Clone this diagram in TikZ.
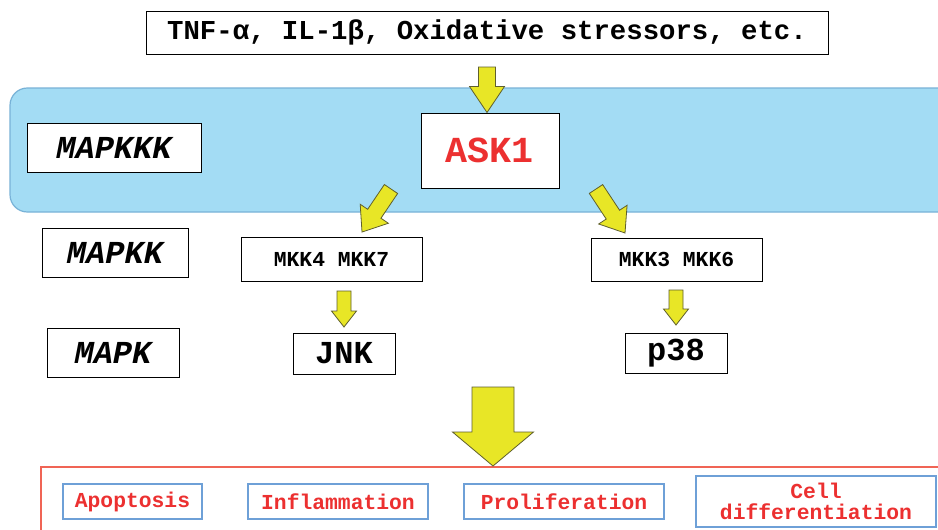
\documentclass[tikz,border=0pt]{standalone}
\usepackage{fontspec}
\setmonofont{Liberation Mono}
\usetikzlibrary{calc}
\definecolor{band}{RGB}{163,220,244}
\definecolor{bandedge}{RGB}{120,178,215}
\definecolor{yel}{RGB}{232,230,38}
\definecolor{yeledge}{RGB}{95,95,45}
\definecolor{askred}{RGB}{236,48,48}
\definecolor{outred}{RGB}{240,100,85}
\definecolor{outblue}{RGB}{110,160,215}
\newcommand{\yarr}[5]{% tail, tip, shaft half width, head half width, head length (px)
  \pgfmathsetmacro\yaS{#3*0.75}%
  \pgfmathsetmacro\yaW{#4*0.75}%
  \pgfmathsetmacro\yaL{#5*0.75}%
  \coordinate (yaH) at ($(#2)!\yaL pt!(#1)$);
  \filldraw[fill=yel, draw=yeledge, line width=0.6pt, line join=miter]
    ($(#1)!\yaS pt!90:(#2)$) -- ($(yaH)!\yaS pt!90:(#2)$) -- ($(yaH)!\yaW pt!90:(#2)$)
    -- (#2) -- ($(yaH)!\yaW pt!-90:(#2)$) -- ($(yaH)!\yaS pt!-90:(#2)$)
    -- ($(#1)!\yaS pt!-90:(#2)$) -- cycle;
}
\begin{document}
\begin{tikzpicture}[x=0.75pt,y=-0.75pt,
  box/.style={draw=black, line width=0.75pt, fill=white, inner sep=0pt, font=\ttfamily\bfseries},
  outbox/.style={draw=outblue, line width=0.9pt, fill=white, inner sep=0pt, text=askred,
     font=\ttfamily\bfseries\fontsize{16}{17}\selectfont, minimum height=26.25pt, align=center}]
\useasboundingbox (0,0) rectangle (938,529);
\fill[white] (0,0) rectangle (938,529);
% blue band
\filldraw[fill=band, draw=bandedge, line width=0.9pt, rounded corners=13pt] (10,88) rectangle (960,212);
% outcome frame
\draw[outred, line width=0.9pt] (41,467) rectangle (960,545);

% nodes
\node[box, minimum width=511.5pt, minimum height=32.25pt, font=\ttfamily\bfseries\fontsize{20.5}{22}\selectfont]
  (stim) at (487,32.5) {TNF-α, IL-1β, Oxidative stressors, etc.};
\node[box, minimum width=103.5pt, minimum height=56.25pt, text=askred, font=\ttfamily\bfseries\fontsize{27.5}{29}\selectfont]
  (ask) at (490,150.5) {ASK1};
\node[box, minimum width=130.5pt, minimum height=36.75pt, font=\ttfamily\bfseries\itshape\fontsize{24}{26}\selectfont]
  (mkkk) at (114,147.5) {MAPKKK};
\node[box, minimum width=109.5pt, minimum height=36.75pt, font=\ttfamily\bfseries\itshape\fontsize{24}{26}\selectfont]
  (mkk) at (115,252.5) {MAPKK};
\node[box, minimum width=99pt, minimum height=36.75pt, font=\ttfamily\bfseries\itshape\fontsize{24}{26}\selectfont]
  (mk) at (113,352.5) {MAPK};
\node[box, minimum width=135.75pt, minimum height=33pt, font=\ttfamily\bfseries\fontsize{16}{17}\selectfont]
  (m47) at (331.5,259) {MKK4 MKK7\hspace{6pt}};
\node[box, minimum width=128.25pt, minimum height=32.25pt, font=\ttfamily\bfseries\fontsize{16}{17}\selectfont]
  (m36) at (676.5,259.5) {MKK3 MKK6};
\node[box, minimum width=76.5pt, minimum height=30.75pt, font=\ttfamily\bfseries\fontsize{24}{26}\selectfont]
  (jnk) at (344,353.5) {JNK};
\node[box, minimum width=76.5pt, minimum height=30pt, font=\ttfamily\bfseries\fontsize{24}{26}\selectfont]
  (p38) at (676,353) {p38};
\node[outbox, minimum width=104.25pt] (apo) at (132.5,501.5) {Apoptosis};
\node[outbox, minimum width=135pt] (infl) at (338,501.5) {Inflammation};
\node[outbox, minimum width=150pt] (prol) at (564,501.5) {Proliferation};
\node[outbox, minimum width=180pt, minimum height=38.25pt, font=\ttfamily\bfseries\fontsize{16}{15.5}\selectfont]
  (diff) at (816,501.5) {Cell\\differentiation};

% arrow anchor coordinates
\coordinate (a0t) at (487,67);   \coordinate (a0h) at (a0t |- ask.north);
\coordinate (a1t) at (391,189);  \coordinate (a1h) at (362,232);
\coordinate (a2t) at (596,189);  \coordinate (a2h) at (625,233);
\coordinate (a3t) at (344,291);  \coordinate (a3h) at (344,327);
\coordinate (a4t) at (676,290);  \coordinate (a4h) at (676,325);
\coordinate (a5t) at (493,387);  \coordinate (a5h) at (493,466);

\yarr{a0t}{a0h}{8.5}{17.5}{26}
\yarr{a1t}{a1h}{8}{17}{22}
\yarr{a2t}{a2h}{8}{17}{22}
\yarr{a3t}{a3h}{7}{12.5}{16}
\yarr{a4t}{a4h}{7}{12.5}{16}
\yarr{a5t}{a5h}{21}{40.5}{34}
\end{tikzpicture}
\end{document}
